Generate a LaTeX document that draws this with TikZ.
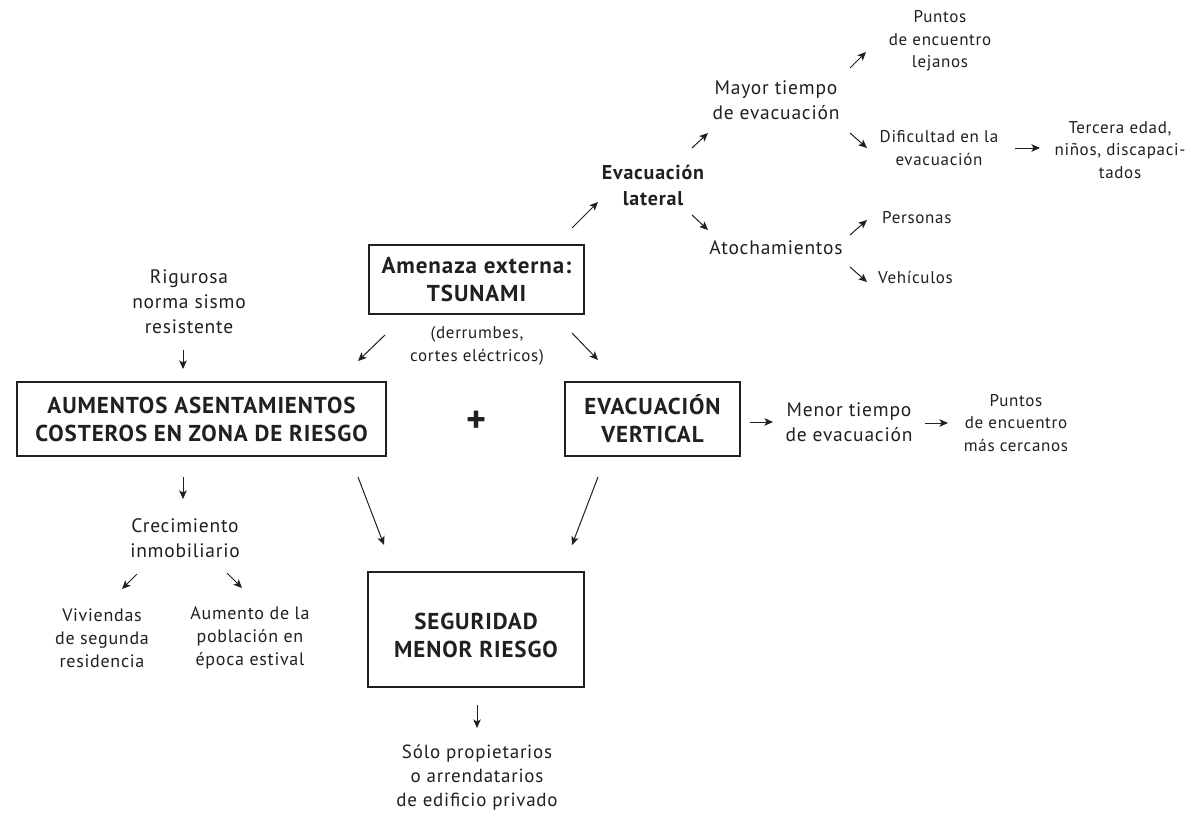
\documentclass[tikz,border=0pt]{standalone}
\usepackage{fontspec}
\setmainfont[LetterSpace=4]{PT Sans}
\usetikzlibrary{arrows.meta}
\definecolor{ink}{HTML}{231F20}
\begin{document}
\begin{tikzpicture}[x=1pt,y=-1pt,
  every node/.style={text=ink, inner sep=0pt, align=center},
  reg/.style={font=\fontsize{19.5}{25}\selectfont},
  sml/.style={font=\fontsize{17}{22.5}\selectfont},
  bld/.style={font=\bfseries\fontsize{20}{26}\selectfont},
  boxt/.style={font=\bfseries\fontsize{23}{28}\selectfont},
  frame/.style={draw=ink, line width=1.1pt, rectangle},
  arr/.style={draw=ink, line width=1pt, -{Stealth[length=8.5pt,width=7.5pt,inset=2pt]}}
]
\useasboundingbox[fill=white] (0,0) rectangle (1197,816);

% nodes
\node[sml] (puntosL) at (940,41) {Puntos\\de encuentro\\lejanos};
\node[reg] (mayor) at (776,100) {Mayor tiempo\\de evacuación};
\node[bld] (lateral) at (653,185) {Evacuación\\lateral};
\node[reg] (atoch) at (776,248) {Atochamientos};
\node[sml] (dific) at (939,148) {Dificultad en la\\evacuación};
\node[sml] (tercera) at (1120,150) {Tercera edad,\\niños, discapaci-\\tados};
\node[sml, anchor=west] (personas) at (882,218) {Personas};
\node[sml, anchor=west] (vehic) at (878,277) {Vehículos};

\node[frame, boxt, minimum width=215pt, minimum height=69pt] (amen) at (476.5,279.5) {Amenaza externa:\\TSUNAMI};
\node[sml] (derr) at (477,346) {(derrumbes,\\cortes eléctricos)};
\node[reg] (rig) at (189,302) {Rigurosa\\norma sismo\\resistente};

\node[frame, boxt, minimum width=369pt, minimum height=74pt] (aum) at (201.5,419) {AUMENTOS ASENTAMIENTOS\\COSTEROS EN ZONA DE RIESGO};
\node[font=\bfseries\fontsize{38}{38}\selectfont] (plus) at (477,422) {+};
\node[frame, boxt, minimum width=175pt, minimum height=74pt] (eva) at (652.5,419) {EVACUACIÓN\\VERTICAL};
\node[reg] (menor) at (849,422) {Menor tiempo\\de evacuación};
\node[sml] (puntosC) at (1016,423) {Puntos\\de encuentro\\más cercanos};

\node[reg] (crec) at (185,538) {Crecimiento\\inmobiliario};
\node[font=\fontsize{18}{23}\selectfont] (viv) at (102,638) {Viviendas\\de segunda\\residencia};
\node[font=\fontsize{18}{23}\selectfont] (aumpob) at (250,638) {Aumento de la\\población en\\época estival};

\node[frame, minimum width=216pt, minimum height=115pt] (seg) at (476,629.5) {};
\node[boxt] (segt) at (476,635) {SEGURIDAD\\MENOR RIESGO};
\node[font=\fontsize{19}{24}\selectfont] (solo) at (477,778) {Sólo propietarios\\o arrendatarios\\de edificio privado};

% arrow end points
\coordinate (a1s) at (850,68);   \coordinate (a1e) at (866,52);
\coordinate (a2s) at (850,133);  \coordinate (a2e) at (867,148);
\coordinate (a3s) at (1015,148); \coordinate (a3e) at (1040,148);
\coordinate (a4s) at (692,148);  \coordinate (a4e) at (708,133);
\coordinate (a5s) at (692,215);  \coordinate (a5e) at (708,230);
\coordinate (a6s) at (572,228);  \coordinate (a6e) at (598,202);
\coordinate (a7s) at (850,235);  \coordinate (a7e) at (867,220);
\coordinate (a8s) at (850,267);  \coordinate (a8e) at (867,282);
\coordinate (a9s) at (385,335);  \coordinate (a9e) at (358,361);
\coordinate (a10s) at (572,333); \coordinate (a10e) at (598,360);
\coordinate (a11s) at (183,350); \coordinate (a11e) at (183,369);
\coordinate (a12s) at (750,422); \coordinate (a12e) at (773,422);
\coordinate (a13s) at (925,423); \coordinate (a13e) at (948,423);
\coordinate (a14s) at (183,477); \coordinate (a14e) at (183,499);
\coordinate (a15s) at (137,574); \coordinate (a15e) at (122,589);
\coordinate (a16s) at (227,573); \coordinate (a16e) at (242,588);
\coordinate (a17s) at (358,477); \coordinate (a17e) at (384,545);
\coordinate (a18s) at (598,477); \coordinate (a18e) at (572,545);
\coordinate (a19s) at (477,705); \coordinate (a19e) at (477,728);

\foreach \i in {1,...,19} {\draw[arr] (a\i s) -- (a\i e);}
\end{tikzpicture}
\end{document}
